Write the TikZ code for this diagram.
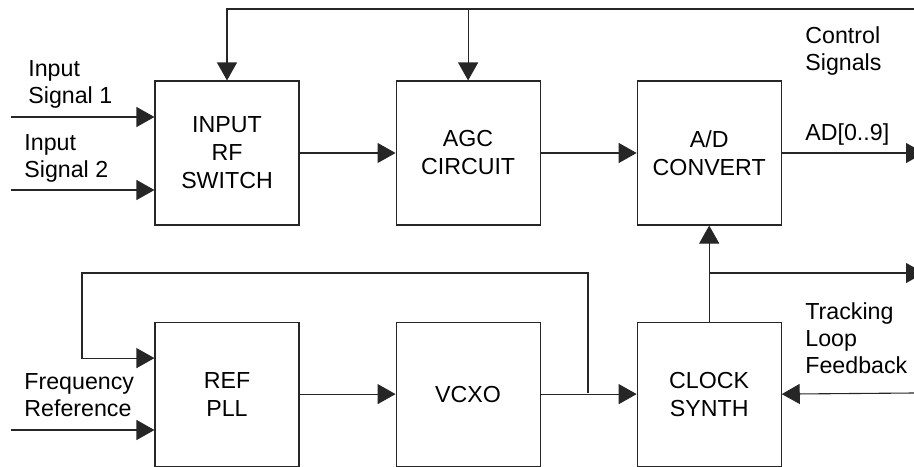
\documentclass[tikz,border=0pt]{standalone}
\usepackage{fontspec}
\setmainfont{Liberation Sans}
\usetikzlibrary{arrows.meta,positioning}
\tikzset{
  block/.style={rectangle,draw=black!85,line width=0.55pt,minimum width=72pt,minimum height=72pt,inner sep=0pt,align=center,font=\fontsize{11.6}{14}\selectfont},
  arrow/.style={-{Triangle[length=9pt,width=10pt]},line width=0.55pt,draw=black!85},
  sidenote/.style={anchor=north west,inner sep=0pt,align=left,font=\fontsize{11.6}{13.5}\selectfont}
}

\begin{document}
\begin{tikzpicture}[x=0.5pt,y=-0.5pt,node distance=48pt]
    \useasboundingbox (0,0) rectangle (914,466);
    \clip (0,0) rectangle (914,466);
    % blocks
    \node[block] (rfsw) at (227,153) {INPUT\\RF\\SWITCH};
    \node[block,right=of rfsw] (agc) {AGC\\CIRCUIT};
    \node[block,right=of agc] (adc) {A/D\\CONVERT};
    \node[block,below=of rfsw] (pll) {REF\\PLL};
    \node[block,right=of pll] (vcxo) {VCXO};
    \node[block,right=of vcxo] (clk) {CLOCK\\SYNTH};
    % free ends
    \coordinate (ctlend) at (914,9);
    \coordinate (in1) at (11,117);
    \coordinate (in2) at (11,190);
    \coordinate (freqin) at (11,430);
    \coordinate (adout) at (924,153);
    \coordinate (trkout) at (924,273);
    \coordinate (trkin) at (914,393);
    \coordinate (loopcorner) at (82,273);
    \coordinate (tap) at (588,393);
    % labels
    \node[sidenote] (in1lbl) at (28,60) {Input\\Signal 1};
    \node[sidenote] (in2lbl) at (24,134) {Input\\Signal 2};
    \node[sidenote] (ctllbl) at (805,26) {Control\\Signals};
    \node[sidenote] (adlbl) at (805,123) {AD[0..9]};
    \node[sidenote] (trklbl) at (805,302) {Tracking\\Loop\\Feedback};
    \node[sidenote] (freqlbl) at (24,373) {Frequency\\Reference};
    % control bus
    \draw[arrow] (ctlend) -| (rfsw.north);
    \draw[arrow] (agc.north |- ctlend) -- (agc.north);
    % signal path
    \draw[arrow] (in1) -- (in1 -| rfsw.west);
    \draw[arrow] (in2) -- (in2 -| rfsw.west);
    \draw[arrow] (rfsw) -- (agc);
    \draw[arrow] (agc) -- (adc);
    \draw[arrow] (adc) -- (adout);
    % clock path
    \draw[arrow] (freqin) -- (freqin -| pll.west);
    \draw[arrow] (pll) -- (vcxo);
    \draw[arrow] (vcxo) -- (clk);
    \draw[arrow] (tap) |- (loopcorner) |- ([yshift=18pt]pll.west);
    \draw[arrow] (clk) -- (adc);
    \draw[arrow] (clk.north |- trkout) -- (trkout);
    \draw[arrow] (trkin) -- (clk.east);
  \end{tikzpicture}
\end{document}
